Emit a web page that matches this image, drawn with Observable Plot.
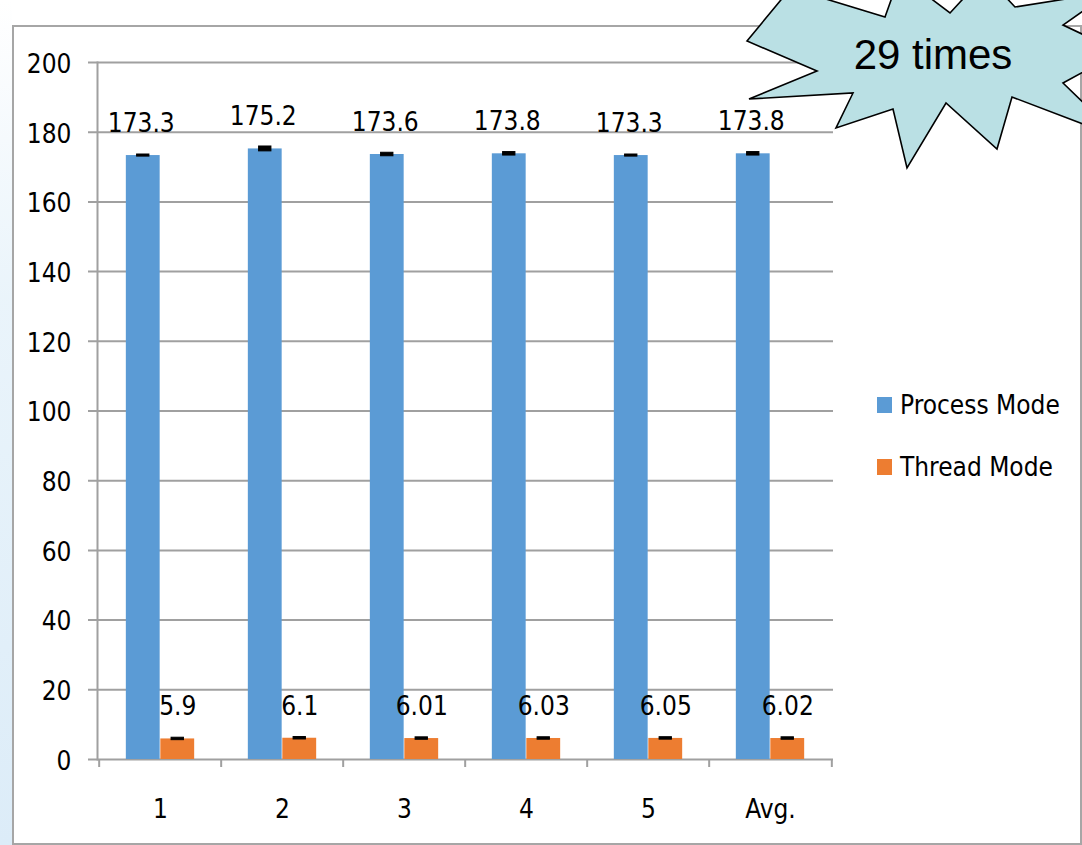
<!DOCTYPE html>
<html>
<head>
<meta charset="utf-8">
<script src="https://cdn.jsdelivr.net/npm/d3@7"></script>
<script src="https://cdn.jsdelivr.net/npm/@observablehq/plot@0.6"></script>
<style>
  html, body { margin: 0; padding: 0; background: #ffffff; }
  #wrap { position: relative; width: 1082px; height: 845px; overflow: hidden; background: #fff; }
  #strip { position: absolute; left: 0; top: 0; width: 12px; height: 845px;
    background: linear-gradient(to bottom, rgba(220,237,248,0) 0%, rgba(220,237,248,0.6) 35%, #dcecf8 100%); }
  #frame { position: absolute; left: 12px; top: 25px; width: 1066px; height: 816px; border: 2px solid #a6a6a6; }
  #chart { position: absolute; left: 0; top: 0; }
  #legend { position: absolute; left: 877px; top: 392px; font-family: 'Liberation Sans Narrow', 'DejaVu Sans Condensed', 'Open Sans', sans-serif; font-size: 26px; color: #000; }
  #legend .item { position: relative; height: 62px; }
  #legend .sw { position: absolute; left: 0; top: 5px; width: 15px; height: 16px; }
  #legend .lab { position: absolute; left: 23px; top: -2px; white-space: nowrap; }
  #star { position: absolute; left: 0; top: 0; overflow: visible; }
</style>
</head>
<body>
<div id="wrap">
  <div id="strip"></div>
  <div id="frame"></div>
  <div id="chart"></div>
  <div id="legend"></div>
  <svg id="star" width="1082" height="845">
    <polygon points="747,41 785,-5 770,-18 885,17 900,-25 950,13 985,-25 1015,7 1110,-8 1063,25 1120,52 1063,83 1120,138 1012,97 997,149 946,103 907,168 893,109 836,128 853,93 749,99 817,71"
      fill="#bae0e4" stroke="#000" stroke-width="1.6" stroke-linejoin="miter"/>
    <text x="933" y="69" text-anchor="middle" font-family="'Liberation Sans', Arial, sans-serif" font-size="42" fill="#000">29 times</text>
  </svg>
</div>
<script>
const categories = ["1", "2", "3", "4", "5", "Avg."];
const series = ["Process Mode", "Thread Mode"];
const colors = ["#5b9bd5", "#ed7d31"];
const processMode = [173.3, 175.2, 173.6, 173.8, 173.3, 173.8];
const threadMode = [5.9, 6.1, 6.01, 6.03, 6.05, 6.02];
const processErr = [0.3, 0.7, 0.5, 0.5, 0.3, 0.5];
const threadErr = [0.35, 0.35, 0.35, 0.35, 0.35, 0.35];
const yTicks = [0, 20, 40, 60, 80, 100, 120, 140, 160, 180, 200];

const W = 1082, H = 845, mL = 97, mR = 249, mT = 62, mB = 86;
const step = (W - mL - mR) / categories.length;
const barW = 34.5;
const errW = 13;
const fs = 26;
const font = "'Liberation Sans Narrow', 'DejaVu Sans Condensed', 'Open Sans', sans-serif";
const gridColor = "#a0a0a0";

const rows = categories.flatMap((c, i) => [
  {cat: c, series: series[0], value: processMode[i], err: processErr[i]},
  {cat: c, series: series[1], value: threadMode[i], err: threadErr[i]}
]);
const proc = rows.filter(d => d.series === series[0]);
const thr = rows.filter(d => d.series === series[1]);

const chart = Plot.plot({
  width: W, height: H,
  marginLeft: mL, marginRight: mR, marginTop: mT, marginBottom: mB,
  style: {background: "transparent", fontFamily: font, fontSize: fs + "px", color: "#000"},
  x: {domain: categories, padding: 0, axis: null, label: null},
  y: {domain: [0, 200], axis: null, label: null},
  color: {domain: series, range: colors},
  marks: [
    Plot.ruleY(yTicks, {stroke: gridColor, strokeWidth: 2, insetLeft: -9}),
    Plot.frame({anchor: "left", stroke: gridColor, strokeWidth: 2}),
    Plot.axisX({tickSize: 8, tickFormat: () => "", label: null, dx: -step / 2, stroke: gridColor, strokeWidth: 2}),
    Plot.axisX({ticks: [categories[categories.length - 1]], tickSize: 8, tickFormat: () => "", label: null, dx: step / 2, stroke: gridColor, strokeWidth: 2}),
    Plot.axisX({tickSize: 0, tickPadding: 40, fontSize: fs, fill: "#000", label: null}),
    Plot.axisY(yTicks, {tickSize: 0, tickPadding: 26, fontSize: fs, fill: "#000", dy: 2, label: null}),
    Plot.barY(proc, {x: "cat", y: "value", fill: "series", insetLeft: step / 2 - barW, insetRight: step / 2}),
    Plot.barY(thr, {x: "cat", y: "value", fill: "series", insetLeft: step / 2, insetRight: step / 2 - barW}),
    Plot.rectY(proc, {x: "cat", y1: d => d.value - d.err, y2: d => d.value + d.err, fill: "#000", stroke: "#000", strokeWidth: 1,
      insetLeft: step / 2 - barW / 2 - errW / 2, insetRight: step / 2 + barW / 2 - errW / 2}),
    Plot.rectY(thr, {x: "cat", y1: d => d.value - d.err, y2: d => d.value + d.err, fill: "#000", stroke: "#000", strokeWidth: 1,
      insetLeft: step / 2 + barW / 2 - errW / 2, insetRight: step / 2 - barW / 2 - errW / 2}),
    Plot.text(proc, {x: "cat", y: "value", text: d => String(d.value), dx: -barW / 2 - 2, dy: -32, fontSize: fs, fill: "#000"}),
    Plot.text(thr, {x: "cat", y: "value", text: d => String(d.value), dx: barW / 2, dy: -32, fontSize: fs, fill: "#000"})
  ]
});
document.getElementById("chart").appendChild(chart);

const legend = document.getElementById("legend");
series.forEach((s, i) => {
  const item = document.createElement("div");
  item.className = "item";
  const sw = document.createElement("div");
  sw.className = "sw";
  sw.style.background = colors[i];
  const lab = document.createElement("div");
  lab.className = "lab";
  lab.textContent = s;
  item.appendChild(sw);
  item.appendChild(lab);
  legend.appendChild(item);
});
</script>
</body>
</html>
